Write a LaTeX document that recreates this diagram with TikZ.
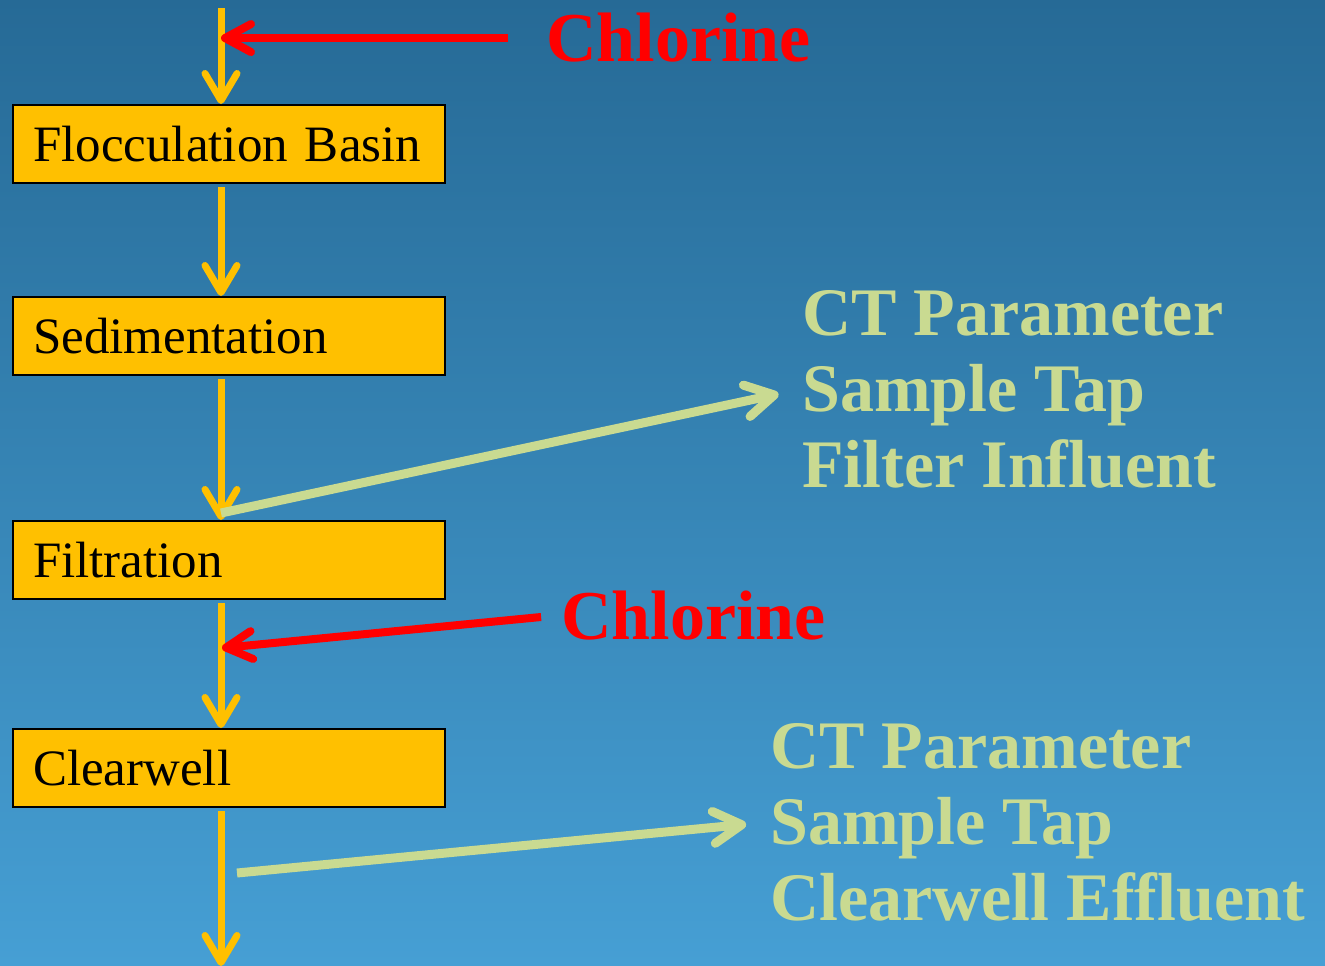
\documentclass[tikz,border=0pt]{standalone}
\usepackage{fontspec}
\setmainfont{Liberation Serif}
\usepackage{xcolor}
\usepackage{tikz}
\usetikzlibrary{arrows.meta,calc}
\definecolor{bgtop}{HTML}{266A96}
\definecolor{bgbot}{HTML}{469FD4}
\definecolor{flowc}{HTML}{FFC000}
\definecolor{chlc}{HTML}{FF0000}
\definecolor{tapc}{HTML}{C9DA91}
\tikzset{
  stage/.style={rectangle,draw=black,line width=2pt,fill=flowc,minimum width=432pt,minimum height=78pt,
    text width=392pt,inner xsep=20pt,align=left,font=\fontsize{51}{58}\selectfont},
  flow/.style={-{Straight Barb[length=27pt,width=32pt,round]},line width=7pt,flowc},
  dose/.style={-{Straight Barb[length=26pt,width=28pt,round]},line width=8pt,chlc},
  sample/.style={-{Straight Barb[length=28pt,width=32pt,round]},line width=9pt,tapc},
  chl/.style={anchor=base west,inner sep=0pt,text=chlc,font=\bfseries\fontsize{70}{76}\selectfont},
  tap/.style={anchor=west,inner sep=0pt,align=left,text=tapc,font=\bfseries\fontsize{68}{76}\selectfont}
}
\begin{document}
\begin{tikzpicture}[x=1pt,y=-1pt]
% background
\shade[top color=bgtop,bottom color=bgbot] (0,0) rectangle (1325,966);
\useasboundingbox (0,0) rectangle (1325,966);
\coordinate (src) at (221,8);
\coordinate (out) at (221,966);
% treatment stages
\node[stage] (floc) at (229,144) {Flocculation Basin};
\node[stage] (sedi) at (229,336) {Sedimentation};
\node[stage] (filt) at (229,560) {Filtration};
\node[stage] (clear) at (229,768) {Clearwell};
% main flow
\draw[flow] (src) -- (src |- floc.north);
\draw[flow,shorten <=3pt] (floc.south -| src) -- (sedi.north -| src);
\draw[flow,shorten <=3pt] (sedi.south -| src) -- (filt.north -| src);
\draw[flow,shorten <=3pt] (filt.south -| src) -- (clear.north -| src);
\draw[flow,shorten <=3pt] (clear.south -| src) -- (out);
% chlorine feeds
\node[chl] (cl1) at (546,62) {Chlorine};
\node[chl] (cl2) at (561,639) {Chlorine};
\coordinate (inj2) at (222,648);
\draw[dose,shorten <=38pt] (cl1.west) -- (cl1.west -| src);
\draw[dose,shorten <=20pt] (cl2.west) -- (inj2);
% sample taps
\node[tap] (tap1) at (802,389) {CT Parameter\\Sample Tap\\Filter Influent};
\node[tap] (tap2) at (770,822) {CT Parameter\\Sample Tap\\Clearwell Effluent};
\coordinate (tap1in) at (221,513);
\coordinate (tap2in) at (237,873);
\draw[sample,shorten >=24pt] (tap1in) -- (tap1.west);
\draw[sample,shorten >=24pt] (tap2in) -- (tap2.west);
\end{tikzpicture}
\end{document}
